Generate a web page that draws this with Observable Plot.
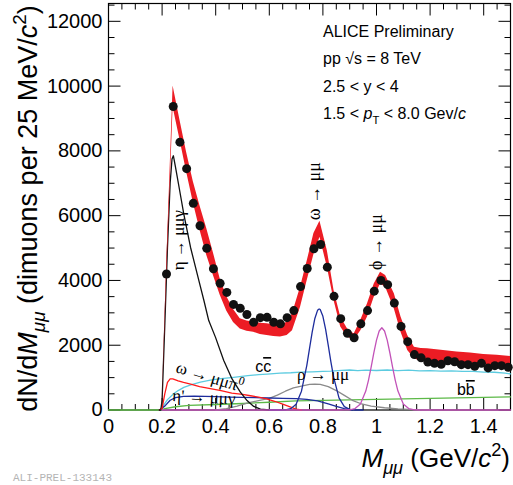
<!DOCTYPE html>
<html>
<head>
<meta charset="utf-8">
<script src="https://cdn.jsdelivr.net/npm/d3@7"></script>
<script src="https://cdn.jsdelivr.net/npm/@observablehq/plot@0.6"></script>
<style>
  body { margin: 0; background: #fff; }
  #chart { width: 513px; height: 485px; }
</style>
</head>
<body>
<div id="chart"></div>
<script>
// Dimuon invariant-mass spectrum, pp at 8 TeV, 2.5 < y < 4 — data, fit band and cocktail components.

// Measured dimuon yield per 25 MeV/c^2 bin
const dataMass = [0.2165, 0.2415, 0.2665, 0.2915, 0.3165, 0.3415, 0.3665, 0.3915, 0.4165, 0.4415,
  0.4665, 0.4915, 0.5165, 0.5415, 0.5665, 0.5915, 0.6165, 0.6415, 0.6665, 0.6915,
  0.7165, 0.7415, 0.7665, 0.7915, 0.8165, 0.8415, 0.8665, 0.8915, 0.9165, 0.9415,
  0.9665, 0.9915, 1.0165, 1.0415, 1.0665, 1.0915, 1.1165, 1.1415, 1.1665, 1.1915,
  1.2165, 1.2415, 1.2665, 1.2915, 1.3165, 1.3415, 1.3665, 1.3915, 1.4165, 1.4415,
  1.4665, 1.4915];
const dataCounts = [4200, 9370, 8270, 7450, 6380, 5690, 4990, 4360, 3910, 3630,
  3260, 3140, 2950, 2710, 2850, 2860, 2710, 2660, 2850, 3070,
  3810, 4370, 4980, 5110, 4410, 3510, 2820, 2370, 2230, 2660,
  3070, 3670, 4000, 3870, 3300, 2580, 2110, 1710, 1610, 1480,
  1440, 1410, 1520, 1490, 1400, 1400, 1350, 1440, 1300, 1370,
  1370, 1320];

// Total fit with its uncertainty band
const bandMass = [0.195, 0.200, 0.2165, 0.241, 0.2665, 0.2915, 0.3165, 0.3415, 0.3665, 0.3915,
  0.4165, 0.4415, 0.4665, 0.4915, 0.5165, 0.5415, 0.5665, 0.5915, 0.6165, 0.6415,
  0.6665, 0.6865, 0.7165, 0.7415, 0.7665, 0.789, 0.8165, 0.8415, 0.8665, 0.8915,
  0.9165, 0.9415, 0.9665, 0.9915, 1.015, 1.034, 1.0665, 1.0915, 1.1165, 1.1415,
  1.1665, 1.19, 1.25, 1.30, 1.35, 1.40, 1.45, 1.50];
const bandLow = [0, 0, 3900, 9350, 8350, 7350, 6400, 5550, 4780, 4150,
  3550, 3050, 2700, 2500, 2430, 2400, 2330, 2300, 2270, 2250,
  2300, 2450, 3170, 4000, 4800, 5330, 4410, 3380, 2560, 2250,
  2150, 2450, 2870, 3480, 3890, 3790, 3120, 2400, 1840, 1580,
  1500, 1480, 1475, 1470, 1440, 1400, 1360, 1330];
const bandHigh = [0, 80, 4350, 10000, 8950, 7950, 7050, 6300, 5600, 4850,
  4050, 3500, 3100, 2820, 2750, 2710, 2680, 2660, 2630, 2610,
  2710, 2970, 3790, 4600, 5450, 5830, 4920, 3690, 2870, 2510,
  2350, 2770, 3280, 3890, 4250, 4150, 3590, 2870, 2300, 1940,
  1900, 1890, 1840, 1790, 1760, 1710, 1690, 1650];

// Cocktail components: [mass, yield]
const etaDalitz = [[0.19, 0], [0.195, 0], [0.200, 300], [0.210, 2600], [0.220, 5000], [0.230, 7000],
  [0.237, 7750], [0.242, 7850], [0.250, 7500], [0.265, 6800], [0.281, 6050], [0.306, 5025],
  [0.337, 4000], [0.356, 3380], [0.374, 2760], [0.399, 2250], [0.430, 1530], [0.461, 960],
  [0.492, 550], [0.517, 290], [0.542, 110], [0.567, 30], [0.60, 0]];
const omegaDalitz = [[0.19, 0], [0.20, 50], [0.21, 500], [0.22, 850], [0.23, 960], [0.24, 960],
  [0.26, 900], [0.28, 850], [0.31, 790], [0.34, 720], [0.38, 660], [0.42, 600], [0.46, 520],
  [0.50, 480], [0.53, 440], [0.56, 400], [0.59, 340], [0.62, 270], [0.65, 180], [0.68, 90],
  [0.70, 30], [0.72, 0]];
const etaPrimeDalitz = [[0.19, 0], [0.21, 120], [0.23, 300], [0.25, 380], [0.28, 420], [0.32, 430],
  [0.36, 420], [0.40, 410], [0.45, 400], [0.50, 390], [0.55, 380], [0.60, 370], [0.65, 360],
  [0.70, 350], [0.74, 330], [0.78, 280], [0.82, 190], [0.85, 110], [0.88, 40], [0.91, 0]];
const omegaMuMu = [[0.60, 0], [0.64, 0], [0.66, 7], [0.68, 41], [0.70, 180], [0.72, 581], [0.74, 1380],
  [0.75, 1892], [0.76, 2403], [0.77, 2826], [0.78, 3077], [0.786, 3120], [0.79, 3101],
  [0.80, 2893], [0.81, 2499], [0.82, 1998], [0.83, 1479], [0.84, 1013], [0.86, 377],
  [0.88, 103], [0.90, 21], [0.92, 0], [0.95, 0]];
const rhoMuMu = [[0.40, 0], [0.44, 40], [0.48, 120], [0.52, 220], [0.56, 290], [0.60, 360],
  [0.63, 460], [0.66, 580], [0.69, 680], [0.72, 740], [0.75, 790], [0.77, 800], [0.79, 790],
  [0.82, 720], [0.85, 600], [0.88, 450], [0.91, 300], [0.94, 200], [0.98, 120], [1.03, 70],
  [1.08, 35], [1.14, 10], [1.20, 0]];
const phiMuMu = [[0.20, 0], [0.86, 0], [0.88, 1], [0.90, 7], [0.92, 43], [0.94, 186], [0.96, 585],
  [0.97, 916], [0.98, 1322], [0.99, 1760], [1.00, 2158], [1.01, 2438], [1.02, 2540], [1.03, 2438],
  [1.04, 2158], [1.05, 1760], [1.06, 1322], [1.07, 916], [1.08, 585], [1.10, 186], [1.12, 43],
  [1.14, 7], [1.16, 0], [1.50, 0]];
const charm = [[0.195, 0], [0.206, 150], [0.22, 320], [0.243, 500], [0.26, 600], [0.281, 700],
  [0.31, 780], [0.343, 860], [0.38, 920], [0.42, 970], [0.467, 1010], [0.52, 1060], [0.56, 1090],
  [0.592, 1110], [0.64, 1140], [0.68, 1150], [0.716, 1170], [0.76, 1180], [0.80, 1195],
  [0.83, 1200], [0.87, 1225], [0.90, 1235], [0.93, 1215], [0.96, 1230], [1.00, 1220],
  [1.04, 1235], [1.08, 1215], [1.12, 1230], [1.16, 1210], [1.20, 1215], [1.24, 1200],
  [1.28, 1210], [1.32, 1190], [1.36, 1195], [1.40, 1170], [1.44, 1165], [1.48, 1140], [1.50, 1115]];
const beauty = [[0.0, 0], [0.195, 0], [0.21, 40], [0.25, 100], [0.30, 140], [0.40, 170], [0.50, 200],
  [0.60, 240], [0.70, 280], [0.80, 300], [0.90, 315], [1.00, 330], [1.10, 345], [1.20, 360],
  [1.30, 375], [1.40, 390], [1.50, 405]];

// Axis ticks
const xMajor = [0, 0.2, 0.4, 0.6, 0.8, 1.0, 1.2, 1.4];
const xMinor = [0.05, 0.1, 0.15, 0.25, 0.3, 0.35, 0.45, 0.5, 0.55, 0.65, 0.7, 0.75, 0.85, 0.9, 0.95,
  1.05, 1.1, 1.15, 1.25, 1.3, 1.35, 1.45];
const yMajor = [0, 2000, 4000, 6000, 8000, 10000, 12000];
const yMinor = [500, 1000, 1500, 2500, 3000, 3500, 4500, 5000, 5500, 6500, 7000, 7500,
  8500, 9000, 9500, 10500, 11000, 11500, 12500];

const points = dataMass.map((m, i) => ({m, n: dataCounts[i]}));
const band = bandMass.map((m, i) => ({m, lo: bandLow[i], hi: bandHigh[i]}));

const C = {
  band: "rgb(236,28,36)",
  black: "#111",
  red: "#ff1a1a",
  blue: "#1d2c9c",
  gray: "#8a8a8a",
  magenta: "#c252b8",
  cyan: "#5ccbe0",
  green: "#5cb947"
};

const line = (d, stroke) => Plot.line(d, {x: d => d[0], y: d => d[1], stroke, strokeWidth: 1.3});

// Inward tick marks drawn as line-shaped dot symbols pinned to a frame edge
const tickSymbol = (dx, dy) => ({draw(ctx) { ctx.moveTo(0, 0); ctx.lineTo(dx, dy); }});
const ticksOn = (values, edge, len) => {
  const dir = {bottom: [0, -len], top: [0, len], left: [len, 0], right: [-len, 0]}[edge];
  const horizontal = edge === "bottom" || edge === "top";
  return Plot.dot(values, {
    [horizontal ? "x" : "y"]: d => d,
    frameAnchor: edge,
    symbol: tickSymbol(...dir),
    stroke: "#000",
    strokeWidth: 1,
    fill: "none"
  });
};

const plot = Plot.plot({
  width: 513,
  height: 485,
  marginLeft: 108,
  marginRight: 3,
  marginTop: 3,
  marginBottom: 75.5,
  style: {fontFamily: "'Liberation Sans', Arial, sans-serif", background: "#fff", color: "#000"},
  x: {domain: [0, 1.5]},
  y: {domain: [0, 12550]},
  marks: [
    Plot.frame({stroke: "#000", strokeWidth: 1.2}),
    ticksOn(xMajor, "bottom", 12), ticksOn(xMinor, "bottom", 6),
    ticksOn(xMajor, "top", 12), ticksOn(xMinor, "top", 6),
    ticksOn(yMajor, "left", 12), ticksOn(yMinor, "left", 6),
    ticksOn(yMajor, "right", 12), ticksOn(yMinor, "right", 6),
    // tick labels
    Plot.axisX({anchor: "bottom", ticks: xMajor, tickSize: 0, tickPadding: 9, fontSize: 20,
      tickFormat: d => String(d), label: null}),
    Plot.axisY({anchor: "left", ticks: yMajor, tickSize: 0, tickPadding: 6, fontSize: 20,
      tickFormat: d => String(d), label: null}),
    // cocktail
    line(beauty, C.green),
    line(charm, C.cyan),
    line(rhoMuMu, C.gray),
    line(etaPrimeDalitz, C.blue),
    line(omegaDalitz, C.red),
    line(etaDalitz, C.black),
    line(omegaMuMu, C.blue),
    line(phiMuMu, C.magenta),
    // total fit band and data
    Plot.areaY(band, {x: "m", y1: "lo", y2: "hi", fill: C.band}),
    Plot.dot(points, {x: "m", y: "n", r: 4.5, fill: C.black, stroke: "none"})
  ]
});

document.getElementById("chart").appendChild(plot);

const X = plot.scale("x");
const Y = plot.scale("y");
const svg = d3.select(plot);

// Text with italic, subscript, superscript and overline runs
function rich(x, y, parts, {size, family = "'Liberation Sans', Arial, sans-serif", anchor = "start", rotate = 0, fill = "#000"}) {
  const t = svg.append("text")
    .attr("transform", `translate(${x},${y}) rotate(${rotate})`)
    .attr("font-size", size)
    .attr("font-family", family)
    .attr("text-anchor", anchor)
    .attr("fill", fill);
  let shift = 0;
  for (const p of parts) {
    const s = t.append("tspan").text(p.t);
    const target = p.sub ? size * 0.28 : p.sup ? -size * 0.42 : 0;
    if (target !== shift) s.attr("dy", target - shift);
    shift = target;
    if (p.sub || p.sup) s.attr("font-size", size * 0.7);
    if (p.it) s.attr("font-style", "italic");
    if (p.over) s.attr("text-decoration", "overline");
  }
  return t;
}

// Axis titles
rich(37, 208.5, [
  {t: "dN/d"}, {t: "M", it: true}, {t: "μμ", it: true, sub: true},
  {t: " (dimuons per 25 MeV/"}, {t: "c", it: true}, {t: "2", sup: true}, {t: ")"}
], {size: 27, anchor: "middle", rotate: -90});

rich(510, 467, [
  {t: "M", it: true}, {t: "μμ", it: true, sub: true},
  {t: " (GeV/"}, {t: "c", it: true}, {t: "2", sup: true}, {t: ")"}
], {size: 26, anchor: "end"});

// Collision system and kinematic selection
const info = [
  [{t: "ALICE Preliminary"}],
  [{t: "pp √s = 8 TeV"}],
  [{t: "2.5 < y < 4"}],
  [{t: "1.5 < "}, {t: "p", it: true}, {t: "T", sub: true}, {t: " < 8.0 Gev/"}, {t: "c", it: true}]
];
info.forEach((parts, i) => rich(323, 37 + i * 27.4, parts, {size: 16}));

// Component labels, anchored in data coordinates
const serif = "'Liberation Serif', 'DejaVu Serif', serif";
rich(X.apply(0.284), Y.apply(5230), [{t: "η → μμγ"}], {size: 17, family: serif, anchor: "middle", rotate: -90});
rich(X.apply(0.791), Y.apply(6740), [{t: "ω → μμ"}], {size: 18, family: serif, anchor: "middle", rotate: -90});
rich(X.apply(1.022), Y.apply(5170), [{t: "ϕ → μμ"}], {size: 18, family: serif, anchor: "middle", rotate: -90});
rich(X.apply(0.250), Y.apply(1157), [{t: "ω → μμπ"}, {t: "0", sup: true}], {size: 17, family: serif, rotate: 17});
rich(X.apply(0.239), Y.apply(262), [{t: "η' → μμγ"}], {size: 17, family: serif, rotate: 3});
rich(X.apply(0.549), Y.apply(1157), [{t: "c"}, {t: "c", over: true}], {size: 16});
rich(X.apply(0.705), Y.apply(910), [{t: "ρ → μμ"}], {size: 17, family: serif});
rich(X.apply(1.302), Y.apply(448), [{t: "b"}, {t: "b", over: true}], {size: 16});

// Preliminary figure tag
svg.append("text")
  .attr("x", 13).attr("y", 481)
  .attr("text-anchor", "start")
  .attr("font-family", "'Liberation Mono', 'DejaVu Sans Mono', monospace")
  .attr("font-size", 11)
  .attr("fill", "#b4b4b4")
  .text("ALI-PREL-133143");
</script>
</body>
</html>
